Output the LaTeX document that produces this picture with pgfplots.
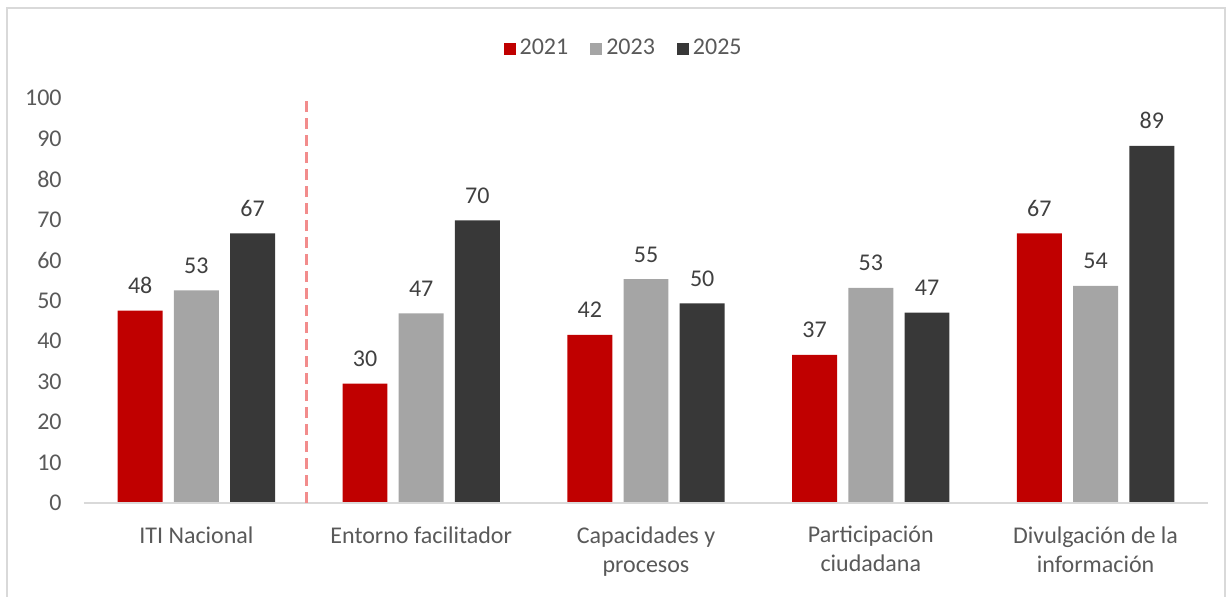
\documentclass[border=0pt]{standalone}
\usepackage{pgfplots}
\pgfplotsset{compat=1.18}
\usepackage{fontspec}
\setmainfont{Carlito}
\definecolor{cRed}{HTML}{C00000}
\definecolor{cGray}{HTML}{A5A5A5}
\definecolor{cDark}{HTML}{383838}
\definecolor{txt}{HTML}{595959}
\definecolor{lbl}{HTML}{404040}
\definecolor{axisgray}{HTML}{D9D9D9}
\definecolor{dashred}{HTML}{F28C8C}
\begin{document}
\begin{tikzpicture}
\draw[axisgray, line width=0.6pt] (3.5pt,-5pt) -- (3.5pt,294pt) -- (612.5pt,294pt) -- (612.5pt,-5pt);
\begin{axis}[
  at={(42pt,46.5pt)}, anchor=south west,
  scale only axis, width=562pt, height=202.5pt,
  xmin=-0.5, xmax=4.5, ymin=0, ymax=100,
  enlargelimits=false,
  ybar, bar width=0.2,
  axis line style={draw=none},
  major tick length=0pt,
  ytick={0,10,...,100},
  xtick={0,1,2,3,4},
  xticklabels={ITI Nacional, Entorno facilitador, Capacidades y\\procesos, Participación\\ciudadana, Divulgación de la\\información},
  tick label style={font=\fontsize{12}{14.5}\selectfont, text=txt},
  yticklabel style={anchor=east, inner sep=0pt, xshift=-11pt},
  xticklabel style={align=center, anchor=north, inner sep=0pt, yshift=-11.5pt},
  /pgf/number format/assume math mode=true,
  point meta=explicit symbolic,
  nodes near coords,
  every node near coord/.append style={font=\fontsize{12}{14.5}\selectfont, text=lbl, anchor=base, inner sep=0pt, yshift=8.5pt},
  legend columns=3,
  legend style={at={(0.481,1.122)}, anchor=center, draw=none, fill=none,
    font=\fontsize{12}{14.5}\selectfont, text=txt,
    nodes={inner sep=2pt},
    /tikz/every even column/.append style={column sep=9pt}},
  legend image code/.code={\fill[#1] (0pt,-3pt) rectangle (6pt,3pt);},
]
\addplot[fill=cRed, draw=none, bar shift=-0.25] coordinates {(0,47.5) [48] (1,29.5) [30] (2,41.5) [42] (3,36.6) [37] (4,66.6) [67]};
\addplot[fill=cGray, draw=none, bar shift=0] coordinates {(0,52.5) [53] (1,46.8) [47] (2,55.3) [55] (3,53.1) [53] (4,53.6) [54]};
\addplot[fill=cDark, draw=none, bar shift=0.25] coordinates {(0,66.6) [67] (1,69.8) [70] (2,49.3) [50] (3,47.0) [47] (4,88.2) [89]};
\legend{2021,2023,2025}
\draw[axisgray, line width=0.8pt] (axis cs:-0.5,0) -- (axis cs:4.5,0);
\draw[dashred, line width=1.5pt, dash pattern=on 5.5pt off 3pt] (axis cs:0.49,0) -- (axis cs:0.49,100.5);
\end{axis}
\pgfresetboundingbox
\useasboundingbox (0,0) rectangle (615.5pt,298pt);
\end{tikzpicture}
\end{document}
